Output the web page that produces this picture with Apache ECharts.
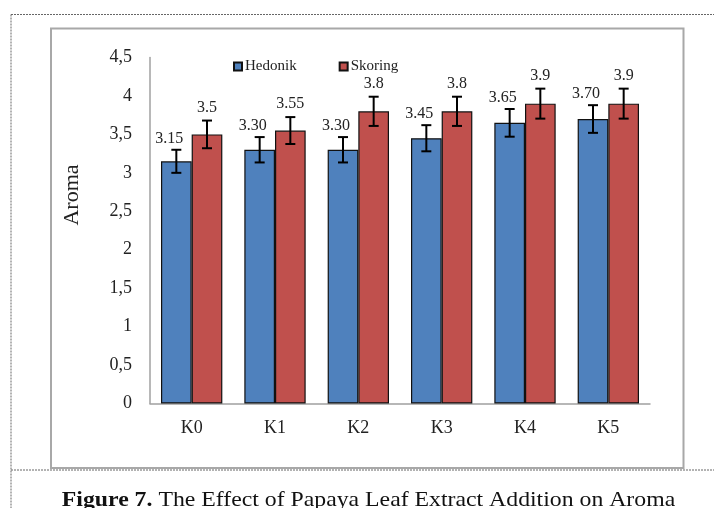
<!DOCTYPE html>
<html>
<head>
<meta charset="utf-8">
<script src="https://cdn.jsdelivr.net/npm/echarts@6/dist/echarts.min.js"></script>
<style>
html,body{margin:0;padding:0;background:#fff;}
#c{width:714px;height:508px;}
</style>
</head>
<body>
<div id="c"></div>
<script>
var categories = ['K0','K1','K2','K3','K4','K5'];
var hedonik = [3.15, 3.30, 3.30, 3.45, 3.65, 3.70];
var skoring = [3.5, 3.55, 3.8, 3.8, 3.9, 3.9];
var hedonikErr = [0.15, 0.165, 0.165, 0.17, 0.18, 0.18];
var skoringErr = [0.18, 0.175, 0.19, 0.19, 0.195, 0.195];
var hedonikLabels = ['3.15','3.30','3.30','3.45','3.65','3.70'];
var skoringLabels = ['3.5','3.55','3.8','3.8','3.9','3.9'];
var yTicks = ['0','0,5','1','1,5','2','2,5','3','3,5','4','4,5'];

var FONT = '"Liberation Serif","Times New Roman",serif';
var BAR_FRAC = 0.368;

function errRenderer(sign, labels, dx, dy) {
  return function (params, api) {
    var idx = api.value(0), v = api.value(1), e = api.value(2);
    var c = api.coord([idx, v]);
    var hi = api.coord([idx, v + e]);
    var lo = api.coord([idx, v - e]);
    var cw = api.size([1, 0])[0];
    var x = c[0] + sign * cw * BAR_FRAC / 2;
    var cap = 5;
    var st = {stroke: '#000', lineWidth: 2};
    return {
      type: 'group',
      children: [
        {type: 'line', shape: {x1: x, y1: hi[1], x2: x, y2: lo[1]}, style: st},
        {type: 'line', shape: {x1: x - cap, y1: hi[1], x2: x + cap, y2: hi[1]}, style: st},
        {type: 'line', shape: {x1: x - cap, y1: lo[1], x2: x + cap, y2: lo[1]}, style: st},
        {type: 'text', x: x + dx, y: hi[1] - dy, style: {
          text: labels[params.dataIndex], fill: '#222', font: '16px ' + FONT,
          textAlign: 'center', textVerticalAlign: 'bottom'}}
      ]
    };
  };
}

function errData(vals, errs) {
  return vals.map(function (v, i) { return [i, v, errs[i]]; });
}

var chart = echarts.init(document.getElementById('c'), null, {renderer: 'canvas'});
chart.setOption({
  animation: false,
  backgroundColor: '#fff',
  grid: {left: 150, right: 64, top: 57.5, bottom: 104.5, containLabel: false},
  legend: {
    data: ['Hedonik', 'Skoring'],
    left: 228, top: 54,
    itemWidth: 8, itemHeight: 8, itemGap: 42,
    icon: 'rect',
    textStyle: {fontFamily: FONT, fontSize: 15, color: '#222', padding: [0, 0, 0, -2]}
  },
  xAxis: {
    type: 'category',
    data: categories,
    axisLine: {lineStyle: {color: '#a0a0a0', width: 1.5}},
    axisTick: {show: false},
    axisLabel: {fontFamily: FONT, fontSize: 18, color: '#222', margin: 16}
  },
  yAxis: {
    type: 'value',
    min: 0, max: 4.5, interval: 0.5,
    axisLine: {show: true, lineStyle: {color: '#a0a0a0', width: 1.5}},
    axisTick: {show: false},
    splitLine: {show: false},
    axisLabel: {
      fontFamily: FONT, fontSize: 18, color: '#222', margin: 18,
      formatter: function (v) { return yTicks[Math.round(v / 0.5)]; }
    }
  },
  series: [
    {name: 'Hedonik', type: 'bar', data: hedonik, barWidth: (BAR_FRAC * 100) + '%', barGap: '0%',
     itemStyle: {color: '#4F81BD', borderColor: '#111', borderWidth: 1.2}},
    {name: 'Skoring', type: 'bar', data: skoring, barWidth: (BAR_FRAC * 100) + '%', barGap: '0%',
     itemStyle: {color: '#C0504D', borderColor: '#111', borderWidth: 1.2}},
    {type: 'custom', name: 'errH', data: errData(hedonik, hedonikErr), z: 10, clip: false,
     renderItem: errRenderer(-1, hedonikLabels, -7, 3)},
    {type: 'custom', name: 'errS', data: errData(skoring, skoringErr), z: 10, clip: false,
     renderItem: errRenderer(1, skoringLabels, 0, 5)}
  ],
  graphic: [
    {type: 'rect', shape: {x: 51, y: 28.5, width: 632.5, height: 439.5},
     style: {fill: 'none', stroke: '#a8a8a8', lineWidth: 2}, z: -1},
    {type: 'line', shape: {x1: 11, y1: 14.5, x2: 714, y2: 14.5},
     style: {stroke: '#666', lineWidth: 1, lineDash: [2, 1]}},
    {type: 'line', shape: {x1: 11, y1: 14.5, x2: 11, y2: 508},
     style: {stroke: '#666', lineWidth: 1, lineDash: [2, 1]}},
    {type: 'line', shape: {x1: 11, y1: 470, x2: 714, y2: 470},
     style: {stroke: '#666', lineWidth: 1, lineDash: [2, 1]}},
    {type: 'text', x: 72, y: 195, rotation: Math.PI / 2,
     style: {text: 'Aroma', font: '22px ' + FONT, fill: '#222', textAlign: 'center', textVerticalAlign: 'middle'}},
    {type: 'text', x: 368.5, y: 500, scaleX: 1.08,
     style: {
       text: '{b|Figure 7.} The Effect of Papaya Leaf Extract Addition on Aroma',
       font: '22px ' + FONT, fill: '#111', textAlign: 'center', textVerticalAlign: 'middle',
       rich: {b: {fontWeight: 'bold', fontFamily: FONT, fontSize: 22, fill: '#111'}}
     }}
  ]
});
</script>
</body>
</html>
